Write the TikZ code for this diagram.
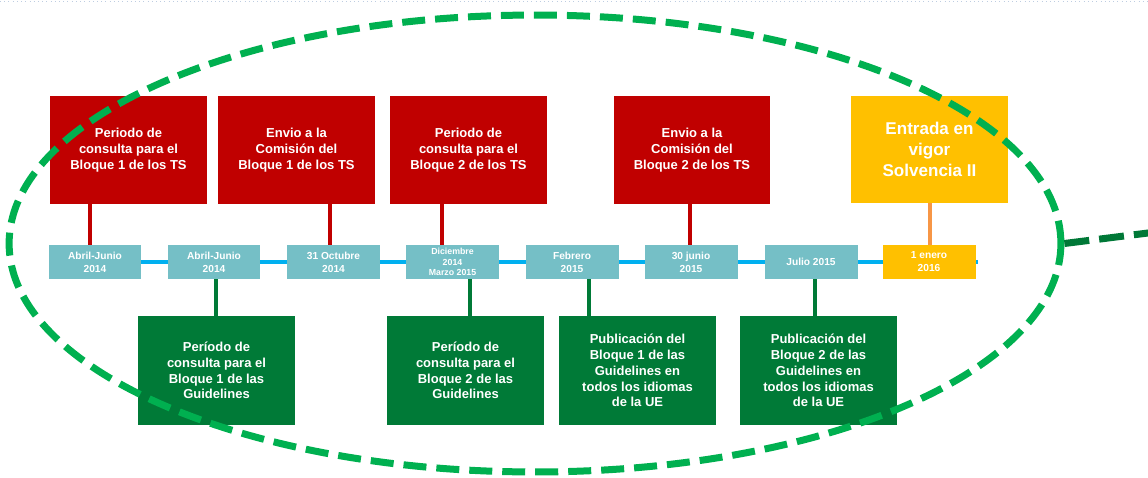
\documentclass[tikz,border=0pt]{standalone}
\usepackage{fontspec}
\setmainfont{Liberation Sans}
\usetikzlibrary{shapes.geometric}

\definecolor{tsred}{RGB}{192,0,0}
\definecolor{glgreen}{RGB}{0,122,55}
\definecolor{datebg}{RGB}{117,191,198}
\definecolor{sigold}{RGB}{255,192,0}
\definecolor{sibar}{RGB}{247,150,70}
\definecolor{axisblue}{RGB}{0,176,240}
\definecolor{ringgreen}{RGB}{0,176,80}
\definecolor{linkgreen}{RGB}{0,120,55}
\definecolor{topdots}{RGB}{190,205,225}

\tikzset{
    tsbox/.style={fill=tsred, text=white, minimum width=3.14cm, minimum height=2.16cm, inner sep=0pt, align=center, font=\bfseries\fontsize{7.4}{9}\selectfont},
    glbox/.style={fill=glgreen, text=white, minimum width=3.14cm, minimum height=2.18cm, inner sep=0pt, align=center, font=\bfseries\fontsize{7.4}{9}\selectfont},
    sibox/.style={fill=sigold, text=white, minimum width=3.14cm, minimum height=2.14cm, inner sep=0pt, align=center, font=\bfseries\fontsize{9.7}{12}\selectfont},
    datebox/.style={fill=datebg, text=white, minimum width=1.86cm, minimum height=0.68cm, inner sep=0pt, align=center, font=\bfseries\fontsize{5.8}{7.4}\selectfont},
    tsline/.style={draw=tsred, line width=0.08cm},
    glline/.style={draw=glgreen, line width=0.07cm},
    siline/.style={draw=sibar, line width=0.08cm},
    axis/.style={draw=axisblue, line width=0.08cm},
    ring/.style={ellipse, draw=ringgreen, line width=0.14cm, dash pattern=on 0.46cm off 0.2cm, minimum width=21.04cm, minimum height=9.14cm, inner sep=0pt},
    link/.style={draw=linkgreen, line width=0.14cm, dash pattern=on 0.5cm off 0.2cm}
}

\begin{document}
\begin{tikzpicture}[x=0.02cm, y=-0.02cm]
    \useasboundingbox (0,0) rectangle (1148,477);
    \draw[topdots, dotted, thin] (0,1) -- (1148,1);

    % timeline
    \coordinate (axisstart) at (95,262);
    \coordinate (axisend) at (978,262);
    \draw[axis] (axisstart) -- (axisend);
    \node[datebox] (d1) at (95,262) {Abril-Junio\\2014};
    \node[datebox] (d2) at (214,262) {Abril-Junio\\2014};
    \node[datebox] (d3) at (333.5,262) {31 Octubre\\2014};
    \node[datebox, font=\bfseries\fontsize{5}{6}\selectfont] (d4) at (452.5,262) {Diciembre\\2014\\Marzo 2015};
    \node[datebox] (d5) at (572,262) {Febrero\\2015};
    \node[datebox] (d6) at (691,262) {30 junio\\2015};
    \node[datebox] (d7) at (811,262) {Julio 2015};
    \node[datebox, fill=sigold] (d8) at (929,262) {1 enero\\2016};

    % TS above
    \node[tsbox] (r1) at (128.5,150) {Periodo de\\consulta para el\\Bloque 1 de los TS};
    \node[tsbox] (r2) at (296.5,150) {Envio a la\\Comisión del\\Bloque 1 de los TS};
    \node[tsbox] (r3) at (468.5,150) {Periodo de\\consulta para el\\Bloque 2 de los TS};
    \node[tsbox] (r4) at (692,150) {Envio a la\\Comisión del\\Bloque 2 de los TS};
    \node[sibox] (sii) at (929.5,149.5) {Entrada en\\vigor\\Solvencia II};

    \draw[tsline] (r1.south -| 90,0) -- (d1.north -| 90,0);
    \draw[tsline] (r2.south -| 330,0) -- (d3.north -| 330,0);
    \draw[tsline] (r3.south -| 442,0) -- (d4.north -| 442,0);
    \draw[tsline] (r4.south -| 690,0) -- (d6.north -| 690,0);
    \draw[siline] (sii.south -| 930,0) -- (d8.north -| 930,0);

    % Guidelines below
    \node[glbox] (g1) at (216.5,370.5) {Período de\\consulta para el\\Bloque 1 de las\\Guidelines};
    \node[glbox] (g2) at (465.5,370.5) {Período de\\consulta para el\\Bloque 2 de las\\Guidelines};
    \node[glbox] (g3) at (637.5,370.5) {Publicación del\\Bloque 1 de las\\Guidelines en\\todos los idiomas\\de la UE};
    \node[glbox] (g4) at (818.5,370.5) {Publicación del\\Bloque 2 de las\\Guidelines en\\todos los idiomas\\de la UE};

    \draw[glline] (d2.south -| 216,0) -- (g1.north -| 216,0);
    \draw[glline] (d4.south -| 470,0) -- (g2.north -| 470,0);
    \draw[glline] (d5.south -| 589,0) -- (g3.north -| 589,0);
    \draw[glline] (d7.south -| 815,0) -- (g4.north -| 815,0);

    % dashed ring
    \node[ring] (scope) at (535,243.5) {};
    \coordinate (out) at (1160,231.5);
    \draw[link] (scope.east) -- (out);

\end{tikzpicture}
\end{document}
